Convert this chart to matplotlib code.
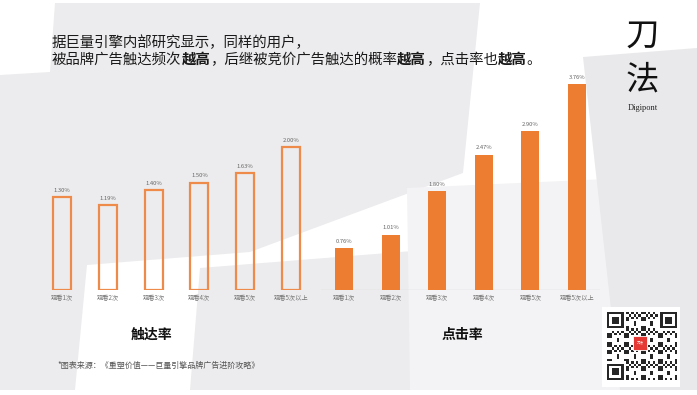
import numpy as np
import matplotlib.pyplot as plt
from matplotlib.patches import Polygon, Rectangle

plt.rcParams['font.family'] = ['Noto Sans CJK SC', 'DejaVu Sans']

# data
categories = ["观看1次", "观看2次", "观看3次", "观看4次", "观看5次", "观看5次以上"]
reach_rate = [1.30, 1.19, 1.40, 1.50, 1.63, 2.00]
click_rate = [0.76, 1.01, 1.80, 2.47, 2.90, 3.76]
reach_title = "触达率"
click_title = "点击率"
heading_1 = [("据巨量引擎内部研究显示，同样的用户，", False)]
heading_2 = [("被品牌广告触达频次", False), ("越高", True), ("，后继被竞价广告触达的概率", False),
             ("越高", True), ("，点击率也", False), ("越高", True), ("。", False)]
source = "*图表来源：《重塑价值——巨量引擎品牌广告进阶攻略》"

W, H = 697, 395
ORANGE = "#ED7D31"
fig = plt.figure(figsize=(W / 100, H / 100), dpi=100)
fig.patch.set_facecolor("white")


def fx(x):
    return x / W


def fy(y):
    return 1 - y / H


def poly(pts, color):
    p = Polygon([(fx(x), fy(y)) for x, y in pts], closed=True, transform=fig.transFigure,
                facecolor=color, edgecolor="none", zorder=-10)
    fig.patches.append(p)


# background shapes
poly([(55, 3), (480, 3), (463, 173), (250, 252), (87, 265), (75, 390), (0, 390), (0, 75), (50, 72)], "#ececee")
poly([(200, 268), (425, 250), (410, 390), (190, 390)], "#ececee")
poly([(407, 188), (630, 178), (620, 390), (410, 390)], "#f3f3f5")
poly([(583, 57), (697, 48), (697, 390), (620, 390)], "#e9e9eb")


def add_ax(x0, x1, ybase, ytop):
    return fig.add_axes([fx(x0), fy(ybase), fx(x1) - fx(x0), (ybase - ytop) / H])


# reach rate (outline bars)
ax1 = add_ax(39.1, 313.9, 290, 100.5)
x = np.arange(len(categories))
ax1.bar(x, reach_rate, width=0.39, fill=False, edgecolor="#EE8A4A", linewidth=1.6)
ax1.set_ylim(0, 2.65)
for xi, v in zip(x, reach_rate):
    ax1.text(xi, v + 0.06, f"{v:.2f}%", ha="center", va="bottom", fontsize=4.2, color="#666666")

# click rate (filled bars)
ax2 = add_ax(320.7, 600.3, 290, 70.8)
ax2.bar(x, click_rate, width=0.386, color=ORANGE)
ax2.set_ylim(0, 4.0)
ax2.axhline(0, color="#d9d9d9", linewidth=1.0, zorder=0)
for xi, v in zip(x, click_rate):
    ax2.text(xi, v + 0.08, f"{v:.2f}%", ha="center", va="bottom", fontsize=4.2, color="#666666")

for ax in (ax1, ax2):
    ax.set_facecolor("none")
    ax.set_xlim(-0.5, 5.5)
    ax.set_xticks(x)
    ax.set_xticklabels(categories, fontsize=4.5, color="#777777")
    ax.tick_params(axis="x", length=0, pad=3)
    ax.set_yticks([])
    for s in ax.spines.values():
        s.set_visible(False)

fig.text(fx(152), fy(335), reach_title, ha="center", va="center", fontsize=10, fontweight="bold", color="#111111")
fig.text(fx(462), fy(335), click_title, ha="center", va="center", fontsize=10, fontweight="bold", color="#111111")
fig.text(fx(57), fy(365), source, ha="left", va="center", fontsize=5.8, color="#555555")

# heading with bold segments
renderer = fig.canvas.get_renderer()
for segs, ypix in ((heading_1, 43), (heading_2, 60)):
    xpix = 52
    for s, bold in segs:
        t = fig.text(fx(xpix), fy(ypix), s, ha="left", va="center", fontsize=10.4,
                     fontweight="bold" if bold else "normal", color="#1a1a1a")
        xpix += t.get_window_extent(renderer).width

# logo
fig.text(fx(642), fy(36), "刀", ha="center", va="center", fontsize=24, color="#111111")
fig.text(fx(642), fy(80), "法", ha="center", va="center", fontsize=24, color="#111111")
fig.text(fx(643), fy(108), "Digipont", ha="center", va="center", fontsize=6,
         family="Liberation Serif", color="#222222")

# qr code block
fig.patches.append(Rectangle((fx(602), fy(387)), fx(78), 80 / H, transform=fig.transFigure,
                             facecolor="white", edgecolor="none", zorder=-5))
n = 29
i, j = np.mgrid[0:n, 0:n]
qr = (((i * i * 3 + j * j * 5 + i * j * 7 + i + 2 * j) % 7) < 3).astype(float)
qr[7, 0:8] = 0
qr[0:8, 7] = 0
qr[7, n - 8:] = 0
qr[0:8, n - 8] = 0
qr[n - 8, 0:8] = 0
qr[n - 8:, 7] = 0
for r0, c0 in ((0, 0), (0, n - 7), (n - 7, 0)):
    qr[r0:r0 + 7, c0:c0 + 7] = 1
    qr[r0 + 1:r0 + 6, c0 + 1:c0 + 6] = 0
    qr[r0 + 2:r0 + 5, c0 + 2:c0 + 5] = 1
axq = add_ax(607, 677, 380, 312)
axq.imshow(qr, cmap="Greys", interpolation="nearest", vmin=0, vmax=1.15, aspect="auto")
axq.axis("off")
fig.patches.append(Rectangle((fx(633), fy(350)), fx(14), 14 / H, transform=fig.transFigure,
                             facecolor="#e53935", edgecolor="white", linewidth=0.6, zorder=5))
fig.text(fx(640), fy(343), "刀法", ha="center", va="center", fontsize=2.5, color="white", zorder=6)

fig.savefig("out.png", dpi=100)
